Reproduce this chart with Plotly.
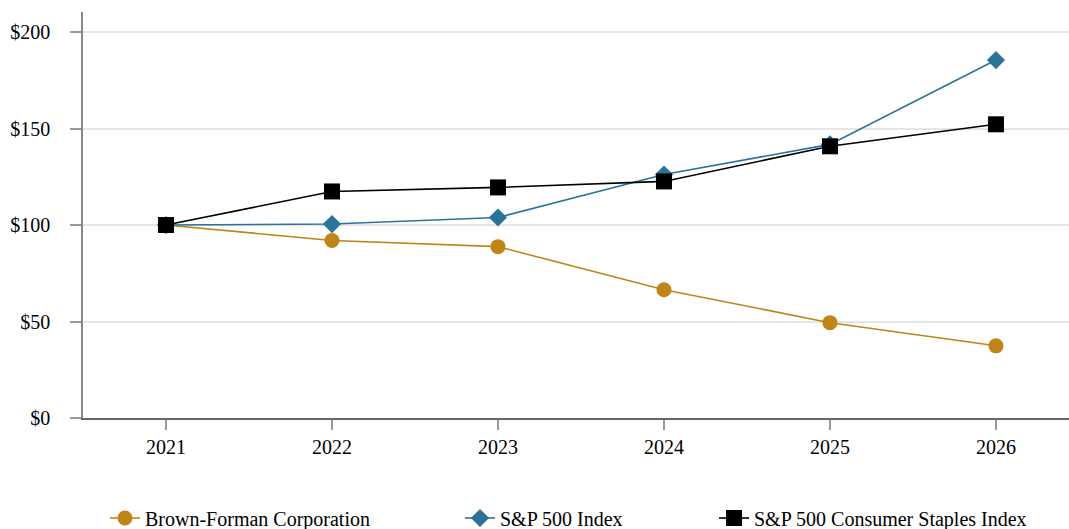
import plotly.graph_objects as go

years = [2021, 2022, 2023, 2024, 2025, 2026]
brown_forman = [100, 92, 88.8, 66.5, 49.4, 37.4]
sp500 = [100, 100.5, 103.9, 126.2, 141.8, 185.5]
staples = [100, 117.4, 119.5, 122.6, 140.8, 152.2]
y_ticks = [0, 50, 100, 150, 200]
y_labels = ["$0", "$50", "$100", "$150", "$200"]

font = dict(family="Liberation Serif, Times New Roman, serif", size=20, color="#000000")

fig = go.Figure()
fig.add_trace(go.Scatter(x=years, y=brown_forman, name="Brown-Forman Corporation",
                         mode="lines+markers", line=dict(color="#BF8517", width=1.6),
                         marker=dict(symbol="circle", size=15, color="#BF8517"),
                         legend="legend"))
fig.add_trace(go.Scatter(x=years, y=sp500, name="S&P 500 Index",
                         mode="lines+markers", line=dict(color="#2A7499", width=1.6),
                         marker=dict(symbol="diamond", size=14, color="#2A7499"),
                         legend="legend2"))
fig.add_trace(go.Scatter(x=years, y=staples, name="S&P 500 Consumer Staples Index",
                         mode="lines+markers", line=dict(color="#000000", width=1.6),
                         marker=dict(symbol="square", size=16, color="#000000"),
                         legend="legend3"))

def leg(xpx):
    return dict(orientation="h", x=(xpx - 83) / 986, xanchor="left",
                y=-(518 - 418) / 406, yanchor="middle", font=font,
                bgcolor="rgba(0,0,0,0)")

fig.update_layout(
    width=1069, height=529,
    margin=dict(l=83, r=0, t=12, b=111, autoexpand=False),
    paper_bgcolor="white", plot_bgcolor="white",
    font=font,
    showlegend=True,
    legend=leg(105), legend2=leg(460), legend3=leg(714),
    xaxis=dict(range=[2020.5, 2026.44], tickvals=years, ticktext=[str(y) for y in years],
               showgrid=False, showline=True, linecolor="#666666", linewidth=2,
               ticks="outside", ticklen=10, tickcolor="#999999", tickwidth=1.5,
               zeroline=False, tickfont=font, automargin=False),
    yaxis=dict(range=[0, 210.4], tickvals=y_ticks, ticktext=y_labels,
               showgrid=True, gridcolor="#E6E6E6", gridwidth=1.5,
               showline=True, linecolor="#888888", linewidth=1.5,
               ticks="outside", ticklen=11, tickcolor="#999999", tickwidth=1.5,
               zeroline=False, tickfont=font, ticklabelstandoff=16, automargin=False),
)
fig.write_html("out.html", config={"displayModeBar": False},
               post_script="document.body.style.margin='0';document.body.style.overflow='hidden';")
